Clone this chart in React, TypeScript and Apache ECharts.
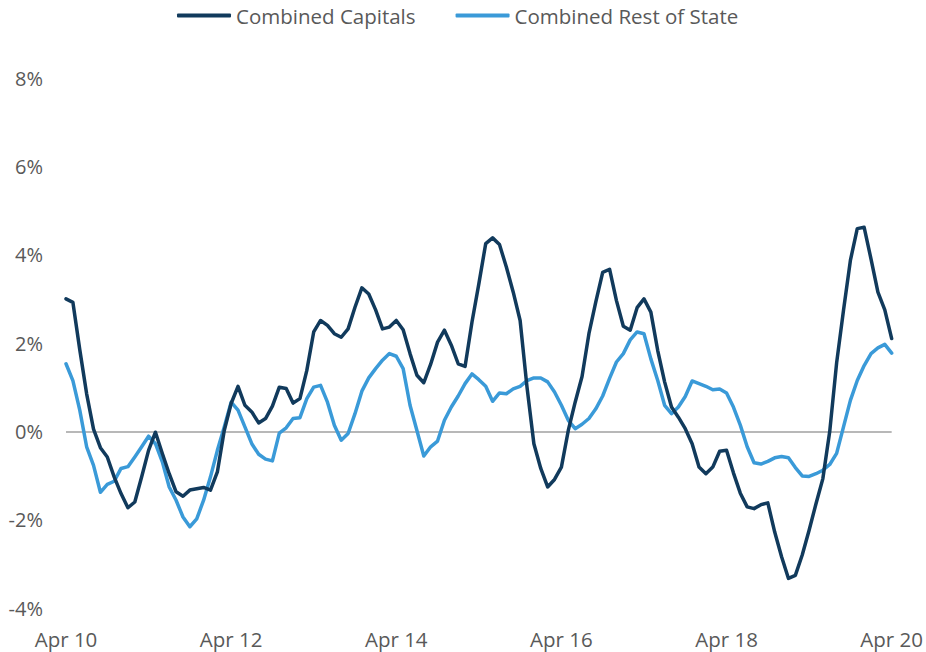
import React, { useEffect, useRef } from "react";
import * as echarts from "echarts";

const tickLabels = ["Apr 10", "Apr 12", "Apr 14", "Apr 16", "Apr 18", "Apr 20"];
const monthNames = ["Apr", "May", "Jun", "Jul", "Aug", "Sep", "Oct", "Nov", "Dec", "Jan", "Feb", "Mar"];

const combinedCapitals = [
  3.0, 2.92, 1.85, 0.85, 0.05, -0.37, -0.58, -1.03, -1.41, -1.73,
  -1.6, -1.03, -0.43, -0.02, -0.5, -0.96, -1.37, -1.47, -1.33, -1.3,
  -1.27, -1.33, -0.92, 0.02, 0.63, 1.02, 0.59, 0.44, 0.19, 0.29,
  0.57, 1.0, 0.97, 0.64, 0.74, 1.38, 2.25, 2.51, 2.4, 2.21,
  2.13, 2.32, 2.81, 3.25, 3.11, 2.75, 2.32, 2.36, 2.51, 2.3,
  1.76, 1.27, 1.1, 1.52, 2.02, 2.29, 1.95, 1.53, 1.47, 2.47,
  3.34, 4.25, 4.38, 4.23, 3.72, 3.15, 2.51, 1.0, -0.28, -0.84,
  -1.26, -1.09, -0.81, 0.02, 0.66, 1.24, 2.21, 2.93, 3.6, 3.67,
  2.96, 2.38, 2.29, 2.8, 3.0, 2.7, 1.83, 1.12, 0.55, 0.32,
  0.06, -0.28, -0.81, -0.96, -0.81, -0.45, -0.43, -0.94, -1.4, -1.71,
  -1.75, -1.66, -1.62, -2.28, -2.84, -3.33, -3.26, -2.8, -2.24, -1.64,
  -1.07, 0.0, 1.55, 2.74, 3.87, 4.59, 4.62, 3.9, 3.15, 2.75,
  2.1,
];

const combinedRestOfState = [
  1.53, 1.15, 0.48, -0.35, -0.77, -1.38, -1.2, -1.13, -0.84, -0.8,
  -0.58, -0.35, -0.11, -0.28, -0.69, -1.26, -1.56, -1.94, -2.16, -1.98,
  -1.56, -1.03, -0.43, 0.1, 0.66, 0.48, 0.1, -0.28, -0.52, -0.63,
  -0.67, -0.04, 0.08, 0.29, 0.31, 0.74, 1.0, 1.04, 0.66, 0.14,
  -0.2, -0.05, 0.4, 0.91, 1.21, 1.42, 1.61, 1.76, 1.7, 1.42,
  0.59, 0.02, -0.56, -0.35, -0.22, 0.25, 0.55, 0.8, 1.08, 1.3,
  1.17, 1.02, 0.68, 0.87, 0.85, 0.96, 1.02, 1.15, 1.21, 1.21,
  1.12, 0.89, 0.59, 0.25, 0.06, 0.16, 0.29, 0.51, 0.8, 1.2,
  1.57, 1.76, 2.07, 2.25, 2.21, 1.64, 1.15, 0.59, 0.4, 0.55,
  0.79, 1.14, 1.08, 1.02, 0.94, 0.96, 0.87, 0.55, 0.14, -0.35,
  -0.71, -0.74, -0.68, -0.6, -0.57, -0.6, -0.82, -1.01, -1.02, -0.96,
  -0.88, -0.75, -0.5, 0.1, 0.7, 1.15, 1.49, 1.76, 1.89, 1.97,
  1.77,
];

const categories = combinedCapitals.map((_, i) => {
  const m = monthNames[i % 12];
  const year = 10 + Math.floor((i + 3) / 12);
  return `${m} ${year}`;
});

const FONT = "'Open Sans', 'Noto Sans', sans-serif";
const TEXT = "#595959";

export default function App() {
  const ref = useRef<HTMLDivElement>(null);
  useEffect(() => {
    if (!ref.current) return;
    const chart = echarts.init(ref.current, undefined, { renderer: "svg" });
    chart.setOption({
      animation: false,
      backgroundColor: "#ffffff",
      textStyle: { fontFamily: FONT },
      legend: {
        top: 0,
        left: 172,
        itemWidth: 54,
        itemHeight: 4,
        itemGap: 40,
        icon: "roundRect",
        textStyle: { color: TEXT, fontSize: 20.5, fontFamily: FONT },
        data: ["Combined Capitals", "Combined Rest of State"],
      },
      grid: { left: 66, right: 29, top: 78, bottom: 44, containLabel: false },
      xAxis: {
        type: "category",
        data: categories,
        boundaryGap: false,
        axisLine: { show: false },
        axisTick: { show: false },
        splitLine: { show: false },
        axisLabel: {
          interval: 23,
          margin: 20,
          color: TEXT,
          fontSize: 20.5,
          fontFamily: FONT,
          formatter: (v: string, idx: number) => tickLabels[Math.round(idx / 24)] ?? v,
        },
      },
      yAxis: {
        type: "value",
        min: -4,
        max: 8,
        interval: 2,
        axisLine: { show: false },
        axisTick: { show: false },
        splitLine: { show: false },
        axisLabel: {
          margin: 23,
          color: TEXT,
          fontSize: 20,
          fontFamily: FONT,
          formatter: "{value}%",
        },
      },
      series: [
        {
          name: "Combined Capitals",
          type: "line",
          data: combinedCapitals,
          symbol: "none",
          smooth: false,
          z: 3,
          color: "#113a5c",
          lineStyle: { color: "#113a5c", width: 3.5, join: "round", cap: "round" },
          markLine: {
            silent: true,
            symbol: "none",
            label: { show: false },
            lineStyle: { color: "#a0a0a0", width: 1.5, type: "solid" },
            data: [{ yAxis: 0 }],
            z: 1,
          },
        },
        {
          name: "Combined Rest of State",
          type: "line",
          data: combinedRestOfState,
          symbol: "none",
          smooth: false,
          z: 2,
          color: "#3a9ad8",
          lineStyle: { color: "#3a9ad8", width: 3.5, join: "round", cap: "round" },
        },
      ],
    });
    return () => chart.dispose();
  }, []);
  return (
    <div
      ref={ref}
      style={{ position: "fixed", left: 0, top: 0, width: 926, height: 652 }}
    />
  );
}
